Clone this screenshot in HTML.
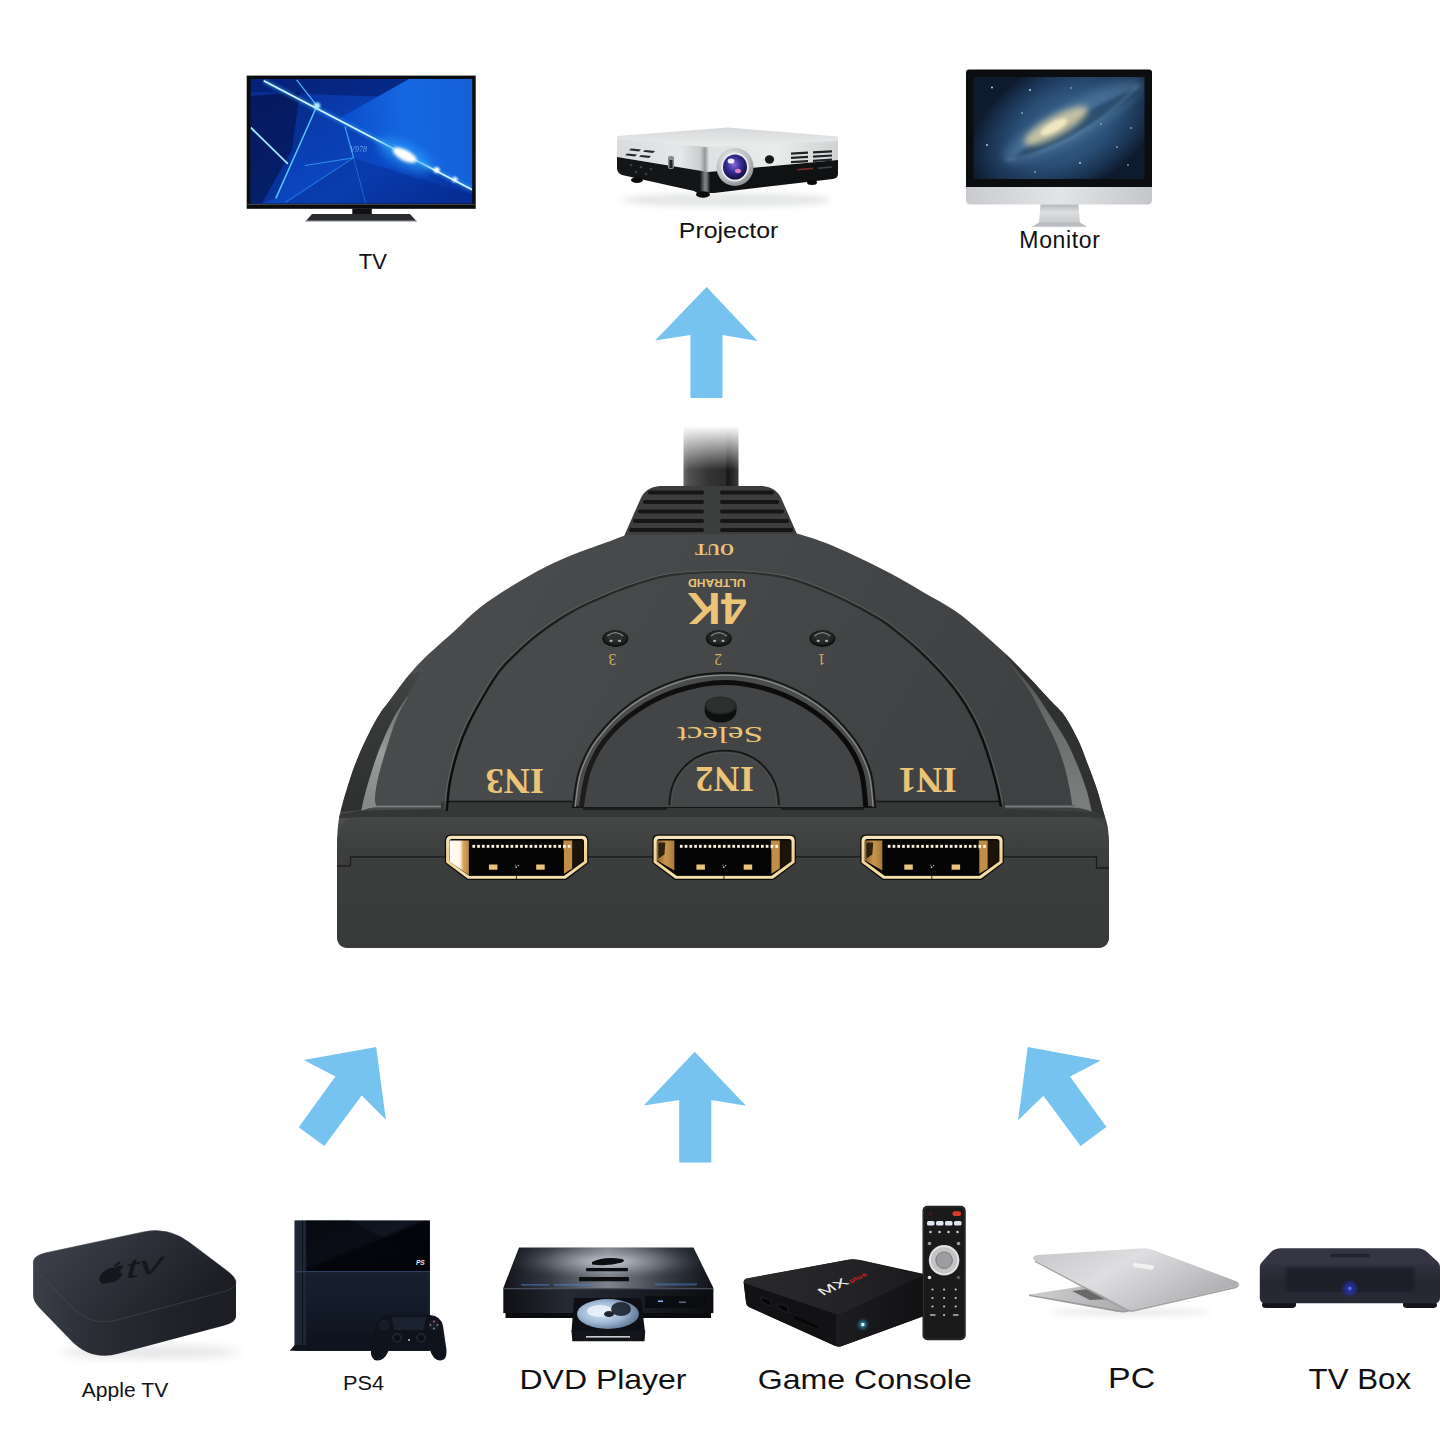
<!DOCTYPE html>
<html>
<head>
<meta charset="utf-8">
<title>HDMI Switch</title>
<style>
html,body{margin:0;padding:0;background:#fff;}
body{width:1445px;height:1445px;overflow:hidden;font-family:"Liberation Sans",sans-serif;}
svg{display:block;position:absolute;left:0;top:0;}
text{font-family:"Liberation Sans",sans-serif;}
.lbl{fill:#111;}
.gold{fill:#ecc477;}
.serif{font-family:"Liberation Serif",serif;}
</style>
</head>
<body>
<svg width="1445" height="1445" viewBox="0 0 1445 1445">
<defs>
<linearGradient id="cableH" x1="0" x2="1" y1="0" y2="0">
<stop offset="0" stop-color="#6a6a6a"/><stop offset="0.1" stop-color="#505050"/><stop offset="0.45" stop-color="#343434"/><stop offset="0.78" stop-color="#2a2a2a"/><stop offset="0.85" stop-color="#1e1e1e"/><stop offset="1" stop-color="#3c3c3c"/>
</linearGradient>
<linearGradient id="cableFade" x1="0" x2="0" y1="0" y2="1">
<stop offset="0" stop-color="#fff" stop-opacity="1"/><stop offset="0.12" stop-color="#fff" stop-opacity="1"/><stop offset="1" stop-color="#fff" stop-opacity="0"/>
</linearGradient>
<linearGradient id="topG" x1="0" x2="1" y1="0" y2="0.3">
<stop offset="0" stop-color="#4b4d4e"/><stop offset="0.5" stop-color="#454748"/><stop offset="1" stop-color="#3e4042"/>
</linearGradient>
<linearGradient id="frontG" x1="0" x2="0" y1="0" y2="1">
<stop offset="0" stop-color="#444746"/><stop offset="0.3" stop-color="#3b3e3d"/><stop offset="1" stop-color="#373a39"/>
</linearGradient>
<linearGradient id="goldG" x1="0" x2="0" y1="0" y2="1">
<stop offset="0" stop-color="#f7e6bb"/><stop offset="0.5" stop-color="#efd090"/><stop offset="1" stop-color="#f5e0ad"/>
</linearGradient>
<linearGradient id="wallW" x1="0" x2="1" y1="0" y2="0">
<stop offset="0" stop-color="#ffffff"/><stop offset="0.55" stop-color="#fff4e0"/><stop offset="0.7" stop-color="#d9a860"/><stop offset="1" stop-color="#b88442"/>
</linearGradient>
<linearGradient id="wallG" x1="0" x2="1" y1="0" y2="0">
<stop offset="0" stop-color="#8a6230"/><stop offset="0.5" stop-color="#c9964e"/><stop offset="1" stop-color="#a87838"/>
</linearGradient>
<clipPath id="bodyClip"><use href="#bodyp"/></clipPath>
<filter id="blur05" x="-20%" y="-20%" width="140%" height="140%"><feGaussianBlur stdDeviation="0.5"/></filter>
<filter id="blur1" x="-20%" y="-20%" width="140%" height="140%"><feGaussianBlur stdDeviation="0.8"/></filter>
<filter id="blur2" x="-50%" y="-50%" width="200%" height="200%"><feGaussianBlur stdDeviation="1.6"/></filter>
<filter id="blur3" x="-50%" y="-50%" width="200%" height="200%"><feGaussianBlur stdDeviation="3"/></filter>
<filter id="blur4" x="-50%" y="-50%" width="200%" height="200%"><feGaussianBlur stdDeviation="5"/></filter>
<linearGradient id="tvBg" x1="0" x2="1" y1="0" y2="1">
<stop offset="0" stop-color="#072a8c"/><stop offset="0.4" stop-color="#0a3fb4"/><stop offset="0.65" stop-color="#0b49c6"/><stop offset="1" stop-color="#062c92"/>
</linearGradient>
<clipPath id="tvClip"><rect x="250.7" y="79" width="221.5" height="124.6"/></clipPath>
<linearGradient id="pjTop" x1="0" x2="0" y1="0" y2="1"><stop offset="0" stop-color="#d6d8da"/><stop offset="1" stop-color="#eceded"/></linearGradient>
<linearGradient id="pjLeftS" x1="0" x2="1" y1="0" y2="0"><stop offset="0" stop-color="#d9dbdc"/><stop offset="0.7" stop-color="#e6e7e8"/><stop offset="1" stop-color="#c0c2c4"/></linearGradient>
<linearGradient id="pjFrontS" x1="0" x2="1" y1="0" y2="0"><stop offset="0" stop-color="#dfe0e1"/><stop offset="0.5" stop-color="#ebecec"/><stop offset="1" stop-color="#d0d2d3"/></linearGradient>
<linearGradient id="pjCorner" x1="0" x2="1" y1="0" y2="0"><stop offset="0" stop-color="#9a9c9e" stop-opacity="0"/><stop offset="0.5" stop-color="#8e9092" stop-opacity="0.9"/><stop offset="1" stop-color="#e8e8e8" stop-opacity="0"/></linearGradient>
<radialGradient id="lensRing" cx="0.4" cy="0.35" r="0.8"><stop offset="0" stop-color="#f4f4f4"/><stop offset="0.6" stop-color="#b8babd"/><stop offset="1" stop-color="#6e7073"/></radialGradient>
<radialGradient id="lensGlass" cx="0.45" cy="0.4" r="0.7"><stop offset="0" stop-color="#8b6ad8"/><stop offset="0.4" stop-color="#3b2f9a"/><stop offset="0.8" stop-color="#14124a"/><stop offset="1" stop-color="#07071e"/></radialGradient>
<radialGradient id="monBg" gradientUnits="userSpaceOnUse" cx="1066" cy="126" r="105" gradientTransform="translate(1066 126) rotate(-29) scale(1 0.62) translate(-1066 -126)"><stop offset="0" stop-color="#3e6890"/><stop offset="0.5" stop-color="#2b5078"/><stop offset="0.8" stop-color="#1a3352"/><stop offset="1" stop-color="#0e1b2e"/></radialGradient>
<clipPath id="monClip"><rect x="973.5" y="77" width="171" height="102"/></clipPath>
<linearGradient id="monChin" x1="0" x2="1" y1="0" y2="0"><stop offset="0" stop-color="#c9cbce"/><stop offset="0.5" stop-color="#e3e4e6"/><stop offset="1" stop-color="#c4c6c9"/></linearGradient>
<linearGradient id="monNeck" x1="0" x2="0" y1="0" y2="1"><stop offset="0" stop-color="#b4b7ba"/><stop offset="0.4" stop-color="#dcdee0"/><stop offset="1" stop-color="#c8cacc"/></linearGradient>
<linearGradient id="atvTop" x1="0" x2="1" y1="0" y2="0.4"><stop offset="0" stop-color="#40444e"/><stop offset="0.5" stop-color="#2e3139"/><stop offset="1" stop-color="#1c1e24"/></linearGradient>
<linearGradient id="atvSide" gradientUnits="userSpaceOnUse" x1="33" x2="236" y1="0" y2="0"><stop offset="0" stop-color="#2a2d35"/><stop offset="0.3" stop-color="#1e2027"/><stop offset="0.45" stop-color="#2b2e36"/><stop offset="1" stop-color="#14151a"/></linearGradient>
<linearGradient id="ps4Gloss" x1="0" x2="1" y1="0" y2="1"><stop offset="0" stop-color="#0a0d15"/><stop offset="0.45" stop-color="#111622"/><stop offset="0.5" stop-color="#04050a"/><stop offset="1" stop-color="#020308"/></linearGradient>
<linearGradient id="ps4Matte" x1="0" x2="0" y1="0" y2="1"><stop offset="0" stop-color="#18202f"/><stop offset="0.5" stop-color="#131a27"/><stop offset="1" stop-color="#0d121c"/></linearGradient>
<linearGradient id="dvdTop" x1="0" x2="1" y1="0" y2="0"><stop offset="0" stop-color="#12141a"/><stop offset="0.22" stop-color="#343943"/><stop offset="0.5" stop-color="#7f858e"/><stop offset="0.78" stop-color="#343943"/><stop offset="1" stop-color="#101217"/></linearGradient>
<radialGradient id="dvdSheen" cx="0.5" cy="0.35" r="0.5"><stop offset="0" stop-color="#d4d7dc" stop-opacity="0.9"/><stop offset="0.6" stop-color="#9a9fa8" stop-opacity="0.3"/><stop offset="1" stop-color="#333" stop-opacity="0"/></radialGradient>
<linearGradient id="dvdFront" x1="0" x2="1" y1="0" y2="0"><stop offset="0" stop-color="#0e1015"/><stop offset="0.3" stop-color="#262a33"/><stop offset="0.6" stop-color="#1c1f27"/><stop offset="1" stop-color="#0c0d11"/></linearGradient>
<radialGradient id="discG" cx="0.4" cy="0.45" r="0.7"><stop offset="0" stop-color="#dbe8f6"/><stop offset="0.5" stop-color="#9fb9d6"/><stop offset="1" stop-color="#4a607e"/></radialGradient>
<linearGradient id="gcTop" x1="0" x2="1" y1="0" y2="0"><stop offset="0" stop-color="#2a2a2c"/><stop offset="0.6" stop-color="#232325"/><stop offset="1" stop-color="#1a1a1c"/></linearGradient>
<linearGradient id="gcFront" x1="0" x2="1" y1="0" y2="0"><stop offset="0" stop-color="#1d1d1f"/><stop offset="1" stop-color="#111113"/></linearGradient>
<linearGradient id="pcLid" x1="0" x2="1" y1="0" y2="0.5"><stop offset="0" stop-color="#c6c6c8"/><stop offset="0.45" stop-color="#dedee0"/><stop offset="0.8" stop-color="#c2c2c4"/><stop offset="1" stop-color="#b0b0b2"/></linearGradient>
<linearGradient id="pcBase" x1="0" x2="1" y1="0" y2="0"><stop offset="0" stop-color="#cfcfd1"/><stop offset="1" stop-color="#a8a8aa"/></linearGradient>
<linearGradient id="tbFront" x1="0" x2="0" y1="0" y2="1"><stop offset="0" stop-color="#30303e"/><stop offset="0.5" stop-color="#262632"/><stop offset="1" stop-color="#2a2a37"/></linearGradient>
<linearGradient id="tvWedge" gradientUnits="userSpaceOnUse" x1="340" y1="118" x2="472" y2="110"><stop offset="0" stop-color="#0b4cc9"/><stop offset="0.5" stop-color="#1668e2"/><stop offset="1" stop-color="#1560d8"/></linearGradient>
<linearGradient id="lipShadow" gradientUnits="userSpaceOnUse" x1="580" y1="760" x2="870" y2="700"><stop offset="0" stop-color="#1c1d1c"/><stop offset="0.25" stop-color="#0e0f0e"/><stop offset="1" stop-color="#0a0b0a"/></linearGradient>
<linearGradient id="slv" gradientUnits="userSpaceOnUse" x1="0" y1="698" x2="0" y2="808"><stop offset="0" stop-color="#6a6c6c"/><stop offset="0.5" stop-color="#9a9c9c"/><stop offset="1" stop-color="#858787"/></linearGradient>
<linearGradient id="rlv" gradientUnits="userSpaceOnUse" x1="0" y1="661" x2="0" y2="808"><stop offset="0" stop-color="#4e5050"/><stop offset="0.4" stop-color="#6a6c6c"/><stop offset="1" stop-color="#7c7e7e"/></linearGradient>
<linearGradient id="lband" gradientUnits="userSpaceOnUse" x1="0" y1="675" x2="0" y2="812"><stop offset="0" stop-color="#424445"/><stop offset="0.3" stop-color="#383a3a"/><stop offset="1" stop-color="#2e3030"/></linearGradient>
<linearGradient id="arcFade" gradientUnits="userSpaceOnUse" x1="0" y1="570" x2="0" y2="810"><stop offset="0" stop-color="#2e3030"/><stop offset="0.25" stop-color="#1c1d1d"/><stop offset="0.6" stop-color="#0e0f0f"/><stop offset="1" stop-color="#0a0b0b"/></linearGradient>
<!--DEFS-->
</defs>
<rect width="1445" height="1445" fill="#ffffff"/>

<!-- ARROWS -->
<g fill="#76c3ef">
<polygon points="706.6,286.9 757.6,340.9 722.5,335 722.5,398 690.4,398 690.4,335 655.1,340.6"/>
<polygon points="694.7,1051.8 746,1105.8 711.3,1100 711.3,1162.6 679.2,1162.6 679.2,1100 643.8,1105.5"/>
<polygon points="376.2,1047 385.9,1119.7 361.7,1095.4 324.3,1146 298.7,1127.3 335.4,1076.5 303.8,1060.1"/>
<polygon points="1027.8,1047 1100.7,1060.4 1070,1076.5 1106.4,1126.9 1080.6,1146 1043.4,1095.8 1018.1,1120.3"/>
</g>

<!-- SWITCH -->
<g id="switch">
<!-- cable -->
<rect x="683.5" y="424" width="55" height="64" fill="url(#cableH)"/>
<rect x="726" y="424" width="3" height="64" fill="#111" opacity="0.55"/>
<rect x="680" y="420" width="62" height="50" fill="url(#cableFade)"/>
<!-- strain relief -->
<path d="M623,540 L625,534 L640,500 Q645,487 660,486 L762,486 Q777,487 782,500 L797,534 L799,540 Z" fill="#3c3e3e"/>
<g stroke="#151615" stroke-width="4.2" stroke-linecap="round">
<line x1="650" y1="492.5" x2="702" y2="492.5"/><line x1="722" y1="492.5" x2="772" y2="492.5"/>
<line x1="645" y1="502" x2="702" y2="502"/><line x1="722" y1="502" x2="777" y2="502"/>
<line x1="640" y1="511.5" x2="702" y2="511.5"/><line x1="722" y1="511.5" x2="782" y2="511.5"/>
<line x1="635" y1="521" x2="702" y2="521"/><line x1="722" y1="521" x2="787" y2="521"/>
<line x1="631" y1="530" x2="702" y2="530"/><line x1="722" y1="530" x2="791" y2="530"/>
</g>
<!-- body silhouette -->
<path id="bodyp" d="M337.0,842.0 C337.2,839.3 337.4,831.3 338.0,826.0 C338.6,820.7 339.4,816.0 340.8,810.0 C342.2,804.0 344.2,797.2 346.6,789.7 C349.0,782.2 351.7,773.1 354.9,764.8 C358.1,756.5 361.7,748.1 365.7,739.8 C369.7,731.5 374.9,721.5 379.0,714.9 C383.1,708.3 385.0,706.7 390.0,700.0 C395.0,693.3 402.5,682.5 409.1,674.7 C415.7,666.9 422.2,660.4 429.8,653.1 C437.4,645.8 446.4,638.3 454.8,630.7 C463.2,623.1 470.3,615.1 480.0,607.5 C489.7,599.9 502.1,592.1 513.2,585.3 C524.3,578.5 535.3,572.0 546.4,566.5 C557.5,561.0 568.6,556.5 579.7,552.1 C590.8,547.7 605.2,542.8 612.9,539.9 C620.6,537.0 623.8,535.8 626.0,535.0 L797.8,533.8 C802.0,535.2 813.4,538.3 823.2,542.1 C833.0,545.9 845.3,551.3 856.4,556.5 C867.5,561.7 878.6,567.2 889.7,573.1 C900.8,579.0 912.0,585.7 922.9,592.0 C933.8,598.3 945.4,604.2 954.9,610.7 C964.4,617.2 971.5,623.6 979.8,630.7 C988.1,637.8 996.5,645.2 1004.8,653.1 C1013.1,661.0 1022.2,670.2 1029.7,678.0 C1037.2,685.8 1044.3,693.9 1050.0,700.0 C1055.7,706.1 1059.3,708.3 1064.0,714.9 C1068.7,721.5 1074.1,731.5 1078.1,739.8 C1082.1,748.1 1084.8,756.5 1088.0,764.8 C1091.2,773.1 1094.7,782.2 1097.2,789.7 C1099.7,797.2 1101.3,804.0 1103.0,810.0 C1104.7,816.0 1106.5,820.7 1107.5,826.0 C1108.5,831.3 1108.8,839.3 1109.0,842.0 L1109,936 Q1109,948 1097,948 L349,948 Q337,948 337,936 Z" fill="url(#topG)"/>
</g>

<g id="switchtop" clip-path="url(#bodyClip)">
<!-- outer bevel band -->
<path d="M340.8,812.0 C341.8,808.3 344.2,797.6 346.6,789.7 C349.0,781.8 351.7,773.1 354.9,764.8 C358.1,756.5 361.7,748.1 365.7,739.8 C369.7,731.5 374.9,721.5 379.0,714.9 C383.1,708.3 385.0,706.7 390.0,700.0 C395.0,693.3 405.9,678.9 409.1,674.7 L420.0,672.0 C419.2,673.7 417.3,677.8 415.0,682.0 C412.7,686.2 410.0,691.3 406.4,697.5 C402.8,703.7 397.5,710.6 393.1,719.0 C388.7,727.4 383.7,738.4 379.8,748.1 C375.9,757.8 372.5,768.9 369.9,777.2 C367.3,785.5 365.4,792.5 364.0,798.0 C362.6,803.5 362.0,808.0 361.6,810.0 Z" fill="url(#lband)"/>
<path d="M361.6,810.0 C362.0,808.0 362.6,803.5 364.0,798.0 C365.4,792.5 367.3,785.5 369.9,777.2 C372.5,768.9 375.9,757.8 379.8,748.1 C383.7,738.4 388.7,727.4 393.1,719.0 C397.5,710.6 404.2,701.1 406.4,697.5 L408.0,696.6 C406.1,700.3 400.0,710.4 396.4,719.0 C392.8,727.6 389.5,738.4 386.5,748.1 C383.5,757.8 380.1,768.9 378.2,777.2 C376.3,785.5 375.2,793.1 374.9,798.0 C374.6,802.9 376.2,804.9 376.5,806.3 Z" fill="url(#slv)"/>
<path d="M361.6,810 Q368,806.5 376.5,806.5 L441,806.5" fill="none" stroke="#8c8e8e" stroke-width="1.6" opacity="0.9"/>
<path d="M1004.8,653.1 C1008.9,657.2 1022.2,670.2 1029.7,678.0 C1037.2,685.8 1044.3,693.9 1050.0,700.0 C1055.7,706.1 1059.3,708.3 1064.0,714.9 C1068.7,721.5 1074.1,731.5 1078.1,739.8 C1082.1,748.1 1084.8,756.5 1088.0,764.8 C1091.2,773.1 1094.7,782.2 1097.2,789.7 C1099.7,797.2 1101.7,805.3 1103.0,810.0 C1104.3,814.7 1104.7,816.7 1105.0,818.0 L1091.4,810.0 C1090.6,806.6 1088.8,797.2 1086.4,789.7 C1084.0,782.2 1080.7,773.1 1077.2,764.8 C1073.7,756.5 1070.2,748.1 1065.6,739.8 C1061.0,731.5 1055.2,723.2 1049.8,714.9 C1044.4,706.6 1040.3,699.8 1033.0,690.0 C1025.7,680.2 1010.5,661.7 1006.0,656.0 Z" fill="#303232"/>
<path d="M1008.2,661.5 C1011.7,666.2 1023.3,681.1 1029.0,690.0 C1034.7,698.9 1038.1,706.6 1042.4,714.9 C1046.7,723.2 1051.2,731.5 1054.8,739.8 C1058.4,748.1 1061.5,756.5 1064.0,764.8 C1066.5,773.1 1068.4,783.0 1069.8,789.7 C1071.2,796.4 1071.9,802.5 1072.3,805.0 L1091.4,810.0 C1090.6,806.6 1088.8,797.2 1086.4,789.7 C1084.0,782.2 1080.7,773.1 1077.2,764.8 C1073.7,756.5 1070.2,748.1 1065.6,739.8 C1061.0,731.5 1055.2,723.2 1049.8,714.9 C1044.4,706.6 1039.9,698.9 1033.0,690.0 C1026.1,681.1 1012.3,666.2 1008.2,661.5 Z" fill="url(#rlv)"/>
<path d="M1005,806.5 L1072,806.5 Q1084,807 1091.4,810.5" fill="none" stroke="#7e8080" stroke-width="1.8" opacity="0.9"/>
<!-- step band between top panels and front face -->
<path d="M441,801.5 L1005,801.5 L1005,818 L441,818 Z" fill="#363838"/>
<path d="M340,814 L361.6,810.5 L441,809 L441,818 L338,818 Z" fill="#353737"/>
<path d="M1005,809 L1093,812 L1104,818 L1005,818 Z" fill="#353737"/>
<path d="M447,801.5 L572,801.5 M876,801.5 L1001,801.5 M670,801.5 L779,801.5" stroke="#151616" stroke-width="1.6" fill="none"/>
<path d="M583,809 L667,809 M781,809 L864,809" stroke="#151616" stroke-width="1.4" fill="none"/>
<!-- outer thin arc -->
<path d="M446.7,811.0 C447.2,806.3 448.0,792.5 449.8,782.7 C451.6,772.9 454.4,761.9 457.4,752.3 C460.4,742.7 463.7,734.2 468.0,725.0 C472.3,715.8 477.7,706.1 483.0,697.0 C488.3,687.9 494.4,677.9 500.0,670.6 C505.6,663.3 511.1,658.5 516.6,653.1 C522.1,647.7 527.7,642.8 533.2,638.2 C538.7,633.6 544.3,629.6 549.8,625.7 C555.3,621.8 560.8,618.2 566.4,614.9 C572.0,611.6 577.5,608.6 583.1,605.8 C588.7,603.0 594.1,600.8 599.7,598.3 C605.4,595.8 611.1,593.3 617.0,591.0 C622.9,588.7 627.8,586.8 634.9,584.5 C642.0,582.2 651.5,578.9 659.8,577.0 C668.1,575.1 674.4,574.1 684.8,573.2 C695.2,572.3 709.5,571.5 722.0,571.5 C734.5,571.5 747.8,572.1 760.0,573.5 C772.2,574.9 782.0,575.9 795.3,580.0 C808.6,584.1 825.9,591.4 840.0,598.0 C854.1,604.6 870.1,613.4 880.0,619.4 C889.9,625.4 892.9,628.7 899.4,633.9 C905.9,639.1 912.3,644.4 918.8,650.4 C925.2,656.4 931.6,662.7 938.1,669.8 C944.6,676.9 951.9,685.2 957.5,693.0 C963.1,700.8 967.8,708.5 972.0,716.3 C976.2,724.1 979.5,731.9 982.7,740.0 C985.9,748.1 988.6,757.2 991.0,765.0 C993.4,772.8 995.4,780.1 997.0,787.0 C998.6,793.9 1000.2,803.2 1000.8,806.5" fill="none" stroke="url(#arcFade)" stroke-width="2.4"/>
<path d="M444.7,810.0 C445.2,805.3 446.0,791.5 447.8,781.7 C449.6,771.9 452.4,760.9 455.4,751.3 C458.4,741.7 461.7,733.2 466.0,724.0 C470.3,714.8 475.7,705.1 481.0,696.0 C486.3,686.9 492.4,676.9 498.0,669.6 C503.6,662.3 509.1,657.5 514.6,652.1 C520.1,646.7 525.7,641.8 531.2,637.2 C536.7,632.6 542.3,628.6 547.8,624.7 C553.3,620.8 558.8,617.2 564.4,613.9 C570.0,610.6 575.5,607.6 581.1,604.8 C586.7,602.0 592.1,599.8 597.7,597.3 C603.4,594.8 609.1,592.3 615.0,590.0 C620.9,587.7 625.8,585.8 632.9,583.5 C640.0,581.2 649.5,577.9 657.8,576.0 C666.1,574.1 671.8,573.1 682.8,572.2 C693.8,571.3 710.8,570.5 724.0,570.5 C737.2,570.5 749.8,571.1 762.0,572.5 C774.2,573.9 784.0,574.9 797.3,579.0 C810.6,583.1 827.9,590.4 842.0,597.0 C856.1,603.6 872.1,612.4 882.0,618.4 C891.9,624.4 894.9,627.7 901.4,632.9 C907.9,638.1 914.3,643.4 920.8,649.4 C927.2,655.4 933.6,661.7 940.1,668.8 C946.6,675.9 953.9,684.2 959.5,692.0 C965.1,699.8 969.8,707.5 974.0,715.3 C978.2,723.1 981.5,730.9 984.7,739.0 C987.9,747.1 990.6,756.2 993.0,764.0 C995.4,771.8 997.4,779.1 999.0,786.0 C1000.6,792.9 1002.2,802.2 1002.8,805.5" fill="none" stroke="#7a7c7c" stroke-width="1" opacity="0.5"/>
<!-- raised lip -->
<path d="M572.9,807.0 C573.9,801.1 575.1,783.2 578.8,771.8 C582.5,760.4 586.7,750.2 595.3,738.8 C603.9,727.4 616.9,713.3 630.6,703.5 C644.3,693.7 661.9,685.1 677.6,680.0 C693.3,674.9 709.0,673.0 724.7,673.0 C740.4,673.0 756.1,674.9 771.8,680.0 C787.5,685.1 805.1,693.7 818.8,703.5 C832.5,713.3 845.5,727.4 854.1,738.8 C862.7,750.2 867.1,760.4 870.6,771.8 C874.1,783.2 874.5,801.1 875.3,807.0 Z" fill="#4a4c4c" stroke="#151616" stroke-width="1.8"/>
<path d="M575.1,807.0 C576.1,801.2 577.2,783.5 580.9,772.3 C584.6,761.1 588.7,751.0 597.2,739.8 C605.8,728.6 618.6,714.8 632.1,705.1 C645.6,695.5 662.9,687.1 678.4,682.1 C693.8,677.1 709.3,675.2 724.7,675.2 C740.1,675.2 755.6,677.1 771.0,682.1 C786.5,687.1 803.8,695.5 817.3,705.1 C830.8,714.8 843.6,728.6 852.2,739.8 C860.7,751.0 865.0,761.1 868.5,772.3 C872.0,783.5 872.3,801.2 873.1,807.0" fill="none" stroke="#a0a2a2" stroke-width="1.2" opacity="0.75"/>
<path d="M583.5,807.0 C584.7,801.1 586.7,782.8 590.6,771.8 C594.5,760.8 599.2,751.0 607.0,741.2 C614.8,731.4 625.8,720.9 637.6,712.9 C649.4,704.9 663.1,697.7 677.6,693.0 C692.1,688.3 709.0,684.7 724.7,684.7 C740.4,684.7 757.3,688.3 771.8,693.0 C786.3,697.7 800.0,704.9 811.8,712.9 C823.6,720.9 834.6,731.4 842.4,741.2 C850.2,751.0 855.3,760.8 858.8,771.8 C862.3,782.8 862.7,801.1 863.5,807.0 Z" fill="#424445"/>
<path d="M581.2,807.0 C582.4,801.0 584.4,782.4 588.4,771.2 C592.3,760.1 597.0,750.1 605.0,740.1 C612.9,730.1 624.1,719.4 636.0,711.2 C648.0,703.0 661.9,695.7 676.7,690.9 C691.5,686.1 708.7,682.4 724.7,682.4 C740.7,682.4 757.9,686.1 772.7,690.9 C787.5,695.7 801.4,703.0 813.4,711.2 C825.3,719.4 836.5,730.1 844.4,740.1 C852.4,750.1 857.5,760.1 861.0,771.2 C864.6,782.4 865.0,801.0 865.8,807.0" fill="none" stroke="url(#lipShadow)" stroke-width="5" stroke-linecap="butt"/>
<!-- IN2 small arc -->
<path d="M669.4,805 C669.6,773 693,750.6 724.7,750.6 C756,750.6 778.6,773 778.8,805" fill="#444647" stroke="#151616" stroke-width="1.8"/>
<path d="M671.6,805 C671.8,775 694,752.8 724.7,752.8 C755,752.8 776.4,775 776.6,805" fill="none" stroke="#565857" stroke-width="0.9" opacity="0.7"/>
<!-- select button -->
<path d="M704.7,706 L704.7,711 A15.9,11.5 0 0 0 736.5,711 L736.5,706 Z" fill="#0e0f0f"/>
<ellipse cx="720.6" cy="705.5" rx="15.9" ry="9" fill="#262727"/>
<ellipse cx="720.6" cy="705" rx="14" ry="7.5" fill="#2e2f2f"/>
<!-- LEDs -->
<g id="led" transform="translate(615.3,637.6)"><ellipse cx="0" cy="1" rx="13" ry="8.4" fill="#101111"/><ellipse cx="0" cy="0" rx="11.5" ry="7.2" fill="#222323"/><ellipse cx="0" cy="-0.5" rx="8" ry="4.6" fill="#2e2f2f"/><path d="M-8,-1.500 Q0,-8.500 8,-1.500" fill="none" stroke="#8e9090" stroke-width="1.3" opacity="0.9"/><ellipse cx="-4.2" cy="3.300" rx="1.6" ry="1.1" fill="#c8caca" opacity="0.85"/><ellipse cx="4.2" cy="3.300" rx="1.6" ry="1.1" fill="#c8caca" opacity="0.85"/></g>
<use href="#led" x="103.5" y="0"/><use href="#led" x="207.1" y="0"/>
<!-- gold text (rotated 180) -->
<g class="gold" text-anchor="middle">
<text class="serif" font-weight="bold" font-size="16.5" textLength="38.8" lengthAdjust="spacingAndGlyphs" transform="translate(714.5,549.3) rotate(180)" x="0" y="5.5">OUT</text>
<text font-weight="bold" font-size="11.2" textLength="57.5" lengthAdjust="spacingAndGlyphs" transform="translate(716.7,583) rotate(180)" x="0" y="4">ULTRAHD</text>
<text font-weight="bold" font-size="45" textLength="59" lengthAdjust="spacingAndGlyphs" transform="translate(717,609.3) rotate(180)" x="0" y="16.2">4K</text>
<text class="serif" font-size="15.7" fill="#d2ab5a" transform="translate(612.4,659.4) rotate(180)" x="0" y="5.3">3</text>
<text class="serif" font-size="15.7" fill="#d2ab5a" transform="translate(718.1,659.4) rotate(180)" x="0" y="5.3">2</text>
<text class="serif" font-size="15.7" fill="#d2ab5a" transform="translate(821.6,659.4) rotate(180)" x="0" y="5.3">1</text>
<text class="serif" font-size="23.5" textLength="86" lengthAdjust="spacingAndGlyphs" transform="translate(720,735.2) rotate(180)" x="0" y="7.8">Select</text>
<text class="serif" font-weight="bold" font-size="36" textLength="58.5" lengthAdjust="spacingAndGlyphs" transform="translate(514.8,781) rotate(180)" x="0" y="12">IN3</text>
<text class="serif" font-weight="bold" font-size="36" textLength="58.5" lengthAdjust="spacingAndGlyphs" transform="translate(724.7,779.4) rotate(180)" x="0" y="12">IN2</text>
<text class="serif" font-weight="bold" font-size="36" textLength="58.5" lengthAdjust="spacingAndGlyphs" transform="translate(927.4,780) rotate(180)" x="0" y="12">IN1</text>
</g>
</g>
<!-- front face -->
<g id="frontface">
<path d="M337,842 Q338,818 358,817 L1088,817 Q1108,818 1109,842 L1109,936 Q1109,948 1097,948 L349,948 Q337,948 337,936 Z" fill="url(#frontG)"/>
<path d="M339,836 Q341,819.5 358,818.2 L1088,818.2 Q1105,819.5 1107,836" fill="none" stroke="#454746" stroke-width="1.6" opacity="0.8"/>
<path d="M350.5,866 L350.5,857 L1096.5,857 L1096.5,868 L1109,868" fill="none" stroke="#1b1c1b" stroke-width="1.3"/>
<path d="M351.5,858.3 L1095.5,858.3" fill="none" stroke="#454746" stroke-width="1" opacity="0.7"/>
<path d="M337,866 L350.5,866" fill="none" stroke="#1b1c1b" stroke-width="1.3"/>
</g>
<g id="ports">
<g transform="translate(444.9,834.5)">
<path d="M6,0 L137.5,0 Q143.5,0 143.5,6 L143.5,28.5 L121.0,45.5 L22.5,45.5 L0,28.5 L0,6 Q0,0 6,0 Z" fill="#0c0c0c"/>
<path d="M6.5,1.2 L137.0,1.2 Q142.3,1.2 142.3,6.5 L142.3,28 L120.5,44.3 L23,44.3 L1.2,28 L1.2,6.5 Q1.2,1.2 6.5,1.2 Z" fill="url(#goldG)"/>
<path d="M7,4.4 L136.5,4.4 Q139.1,4.4 139.1,7 L139.1,26.8 L119.3,41.3 L24.2,41.3 L4.4,26.8 L4.4,7 Q4.4,4.4 7,4.4 Z" fill="#070707"/>
<path d="M4.6,6 L24,6 L24,40.5 L4.6,27 Z" fill="url(#wallW)"/>
<path d="M118.5,6 L127.5,6 L127.5,34 L118.5,39.5 Z" fill="#c28d48"/>
<path d="M127.5,6 L138.5,6 L138.5,27 L127.5,34 Z" fill="#1c140a"/>
<rect x="24.5" y="15" width="94.5" height="26" fill="#050505"/>
<rect x="27.50" y="10.4" width="2.7" height="2.9" fill="#fff6df"/><rect x="32.27" y="10.4" width="2.7" height="2.9" fill="#fff6df"/><rect x="37.04" y="10.4" width="2.7" height="2.9" fill="#fff6df"/><rect x="41.81" y="10.4" width="2.7" height="2.9" fill="#fff6df"/><rect x="46.58" y="10.4" width="2.7" height="2.9" fill="#fff6df"/><rect x="51.35" y="10.4" width="2.7" height="2.9" fill="#fff6df"/><rect x="56.12" y="10.4" width="2.7" height="2.9" fill="#fff6df"/><rect x="60.89" y="10.4" width="2.7" height="2.9" fill="#fff6df"/><rect x="65.66" y="10.4" width="2.7" height="2.9" fill="#fff6df"/><rect x="70.43" y="10.4" width="2.7" height="2.9" fill="#fff6df"/><rect x="75.20" y="10.4" width="2.7" height="2.9" fill="#fff6df"/><rect x="79.97" y="10.4" width="2.7" height="2.9" fill="#fff6df"/><rect x="84.74" y="10.4" width="2.7" height="2.9" fill="#fff6df"/><rect x="89.51" y="10.4" width="2.7" height="2.9" fill="#fff6df"/><rect x="94.28" y="10.4" width="2.7" height="2.9" fill="#fff6df"/><rect x="99.05" y="10.4" width="2.7" height="2.9" fill="#fff6df"/><rect x="103.82" y="10.4" width="2.7" height="2.9" fill="#fff6df"/><rect x="108.59" y="10.4" width="2.7" height="2.9" fill="#fff6df"/><rect x="113.36" y="10.4" width="2.7" height="2.9" fill="#fff6df"/><rect x="118.13" y="10.4" width="2.7" height="2.9" fill="#fff6df"/><rect x="122.90" y="10.4" width="2.7" height="2.9" fill="#fff6df"/>
<rect x="44" y="30" width="8.5" height="5.2" fill="#ecc47c"/>
<rect x="91.3" y="30" width="8.5" height="5.2" fill="#ecc47c"/>
<circle cx="71.3" cy="32.6" r="0.9" fill="#d8d0c0"/><circle cx="73.3" cy="31" r="0.7" fill="#bbb"/><circle cx="70.5" cy="30.5" r="0.6" fill="#aaa"/>
<rect x="71" y="41.0" width="1" height="3.4" fill="#3a2a10"/>
</g>
<g transform="translate(652.4,834.5)">
<path d="M6,0 L137.5,0 Q143.5,0 143.5,6 L143.5,28.5 L121.0,45.5 L22.5,45.5 L0,28.5 L0,6 Q0,0 6,0 Z" fill="#0c0c0c"/>
<path d="M6.5,1.2 L137.0,1.2 Q142.3,1.2 142.3,6.5 L142.3,28 L120.5,44.3 L23,44.3 L1.2,28 L1.2,6.5 Q1.2,1.2 6.5,1.2 Z" fill="url(#goldG)"/>
<path d="M7,4.4 L136.5,4.4 Q139.1,4.4 139.1,7 L139.1,26.8 L119.3,41.3 L24.2,41.3 L4.4,26.8 L4.4,7 Q4.4,4.4 7,4.4 Z" fill="#070707"/>
<path d="M4.6,6 L22,6 L22,36 L4.6,26 Z" fill="url(#wallG)"/>
<path d="M6,8 L13,8 L12,20 L6,24 Z" fill="#1a1208" opacity="0.85"/>
<path d="M118.5,6 L127.5,6 L127.5,34 L118.5,39.5 Z" fill="#c28d48"/>
<path d="M127.5,6 L138.5,6 L138.5,27 L127.5,34 Z" fill="#1c140a"/>
<rect x="24.5" y="15" width="94.5" height="26" fill="#050505"/>
<rect x="27.50" y="10.4" width="2.7" height="2.9" fill="#fff6df"/><rect x="32.27" y="10.4" width="2.7" height="2.9" fill="#fff6df"/><rect x="37.04" y="10.4" width="2.7" height="2.9" fill="#fff6df"/><rect x="41.81" y="10.4" width="2.7" height="2.9" fill="#fff6df"/><rect x="46.58" y="10.4" width="2.7" height="2.9" fill="#fff6df"/><rect x="51.35" y="10.4" width="2.7" height="2.9" fill="#fff6df"/><rect x="56.12" y="10.4" width="2.7" height="2.9" fill="#fff6df"/><rect x="60.89" y="10.4" width="2.7" height="2.9" fill="#fff6df"/><rect x="65.66" y="10.4" width="2.7" height="2.9" fill="#fff6df"/><rect x="70.43" y="10.4" width="2.7" height="2.9" fill="#fff6df"/><rect x="75.20" y="10.4" width="2.7" height="2.9" fill="#fff6df"/><rect x="79.97" y="10.4" width="2.7" height="2.9" fill="#fff6df"/><rect x="84.74" y="10.4" width="2.7" height="2.9" fill="#fff6df"/><rect x="89.51" y="10.4" width="2.7" height="2.9" fill="#fff6df"/><rect x="94.28" y="10.4" width="2.7" height="2.9" fill="#fff6df"/><rect x="99.05" y="10.4" width="2.7" height="2.9" fill="#fff6df"/><rect x="103.82" y="10.4" width="2.7" height="2.9" fill="#fff6df"/><rect x="108.59" y="10.4" width="2.7" height="2.9" fill="#fff6df"/><rect x="113.36" y="10.4" width="2.7" height="2.9" fill="#fff6df"/><rect x="118.13" y="10.4" width="2.7" height="2.9" fill="#fff6df"/><rect x="122.90" y="10.4" width="2.7" height="2.9" fill="#fff6df"/>
<rect x="44" y="30" width="8.5" height="5.2" fill="#ecc47c"/>
<rect x="91.3" y="30" width="8.5" height="5.2" fill="#ecc47c"/>
<circle cx="71.3" cy="32.6" r="0.9" fill="#d8d0c0"/><circle cx="73.3" cy="31" r="0.7" fill="#bbb"/><circle cx="70.5" cy="30.5" r="0.6" fill="#aaa"/>
<rect x="71" y="41.0" width="1" height="3.4" fill="#3a2a10"/>
</g>
<g transform="translate(860.3,834.5)">
<path d="M6,0 L137.5,0 Q143.5,0 143.5,6 L143.5,28.5 L121.0,45.5 L22.5,45.5 L0,28.5 L0,6 Q0,0 6,0 Z" fill="#0c0c0c"/>
<path d="M6.5,1.2 L137.0,1.2 Q142.3,1.2 142.3,6.5 L142.3,28 L120.5,44.3 L23,44.3 L1.2,28 L1.2,6.5 Q1.2,1.2 6.5,1.2 Z" fill="url(#goldG)"/>
<path d="M7,4.4 L136.5,4.4 Q139.1,4.4 139.1,7 L139.1,26.8 L119.3,41.3 L24.2,41.3 L4.4,26.8 L4.4,7 Q4.4,4.4 7,4.4 Z" fill="#070707"/>
<path d="M4.6,6 L22,6 L22,36 L4.6,26 Z" fill="url(#wallG)"/>
<path d="M6,8 L13,8 L12,20 L6,24 Z" fill="#1a1208" opacity="0.85"/>
<path d="M118.5,6 L127.5,6 L127.5,34 L118.5,39.5 Z" fill="#c28d48"/>
<path d="M127.5,6 L138.5,6 L138.5,27 L127.5,34 Z" fill="#1c140a"/>
<rect x="24.5" y="15" width="94.5" height="26" fill="#050505"/>
<rect x="27.50" y="10.4" width="2.7" height="2.9" fill="#fff6df"/><rect x="32.27" y="10.4" width="2.7" height="2.9" fill="#fff6df"/><rect x="37.04" y="10.4" width="2.7" height="2.9" fill="#fff6df"/><rect x="41.81" y="10.4" width="2.7" height="2.9" fill="#fff6df"/><rect x="46.58" y="10.4" width="2.7" height="2.9" fill="#fff6df"/><rect x="51.35" y="10.4" width="2.7" height="2.9" fill="#fff6df"/><rect x="56.12" y="10.4" width="2.7" height="2.9" fill="#fff6df"/><rect x="60.89" y="10.4" width="2.7" height="2.9" fill="#fff6df"/><rect x="65.66" y="10.4" width="2.7" height="2.9" fill="#fff6df"/><rect x="70.43" y="10.4" width="2.7" height="2.9" fill="#fff6df"/><rect x="75.20" y="10.4" width="2.7" height="2.9" fill="#fff6df"/><rect x="79.97" y="10.4" width="2.7" height="2.9" fill="#fff6df"/><rect x="84.74" y="10.4" width="2.7" height="2.9" fill="#fff6df"/><rect x="89.51" y="10.4" width="2.7" height="2.9" fill="#fff6df"/><rect x="94.28" y="10.4" width="2.7" height="2.9" fill="#fff6df"/><rect x="99.05" y="10.4" width="2.7" height="2.9" fill="#fff6df"/><rect x="103.82" y="10.4" width="2.7" height="2.9" fill="#fff6df"/><rect x="108.59" y="10.4" width="2.7" height="2.9" fill="#fff6df"/><rect x="113.36" y="10.4" width="2.7" height="2.9" fill="#fff6df"/><rect x="118.13" y="10.4" width="2.7" height="2.9" fill="#fff6df"/><rect x="122.90" y="10.4" width="2.7" height="2.9" fill="#fff6df"/>
<rect x="44" y="30" width="8.5" height="5.2" fill="#ecc47c"/>
<rect x="91.3" y="30" width="8.5" height="5.2" fill="#ecc47c"/>
<circle cx="71.3" cy="32.6" r="0.9" fill="#d8d0c0"/><circle cx="73.3" cy="31" r="0.7" fill="#bbb"/><circle cx="70.5" cy="30.5" r="0.6" fill="#aaa"/>
<rect x="71" y="41.0" width="1" height="3.4" fill="#3a2a10"/>
</g>
</g>


<!-- TV -->
<g id="tv">
<rect x="246.7" y="75.6" width="229" height="133.2" fill="#0b0c0e"/>
<rect x="250.7" y="79" width="221.5" height="124.6" fill="url(#tvBg)"/>
<g clip-path="url(#tvClip)">
<polygon points="250.7,79 472.2,79 472.2,100 250.7,92" fill="#041a66" opacity="0.55"/>
<polygon points="340,118 409,79 472.2,79 472.2,190" fill="url(#tvWedge)"/>
<polygon points="250.7,96 300,92 292,150 262,203.6 250.7,203.6" fill="#04134e" opacity="0.75"/>
<polygon points="300,92 317,106 276,198 262,203.6 292,150" fill="#072a86" opacity="0.6"/>
<polygon points="317,106 345,126 353.6,158 305,165.5" fill="#0a3fae" opacity="0.45"/>
<polygon points="353.6,158 365.8,203.6 286,203.6" fill="#072f94" opacity="0.5"/>
<polygon points="353.6,158 472.2,195 472.2,203.6 365.8,203.6" fill="#062a8c" opacity="0.45"/>
<line x1="263.7" y1="80.8" x2="472.2" y2="189.8" stroke="#39b4ff" stroke-width="4.5" opacity="0.5" filter="url(#blur2)"/>
<line x1="263.7" y1="80.800" x2="472.2" y2="189.8" stroke="#d8f4ff" stroke-width="1.7" filter="url(#blur05)"/>
<line x1="296.600" y1="79.900" x2="317" y2="105.800" stroke="#56c8ff" stroke-width="1.2" opacity="0.9"/>
<line x1="317" y1="105.800" x2="275.800" y2="198.400" stroke="#5ad0ff" stroke-width="1.5" opacity="0.95" filter="url(#blur05)"/>
<line x1="250.700" y1="127.500" x2="287.900" y2="163.800" stroke="#9fe6ff" stroke-width="1.8" filter="url(#blur05)"/>
<line x1="345" y1="126.600" x2="353.600" y2="157.800" stroke="#4bbcff" stroke-width="1.1" opacity="0.9"/>
<line x1="353.600" y1="157.800" x2="305" y2="165.500" stroke="#3aa8f5" stroke-width="1" opacity="0.8"/>
<line x1="353.600" y1="157.800" x2="286" y2="201.900" stroke="#2f9bef" stroke-width="1" opacity="0.7"/>
<line x1="353.600" y1="157.800" x2="365.800" y2="203.600" stroke="#2f9bef" stroke-width="0.9" opacity="0.55"/>
<circle cx="317" cy="105.800" r="3.2" fill="#aef0ff" filter="url(#blur1)"/>
<ellipse cx="404.700" cy="155.200" rx="30" ry="11" fill="#2ea6ff" opacity="0.6" transform="rotate(27.6 404.7 155.2)" filter="url(#blur4)"/>
<ellipse cx="404.700" cy="155.200" rx="13" ry="5.5" fill="#ffffff" transform="rotate(27.6 404.7 155.2)" filter="url(#blur2)"/>
<circle cx="436.700" cy="169.900" r="3" fill="#fff" filter="url(#blur1)"/>
<circle cx="454.900" cy="179.400" r="2.600" fill="#e8fbff" filter="url(#blur1)"/>
<text x="350" y="152" font-size="8" fill="#8fc8ff" opacity="0.7" font-style="italic" class="serif">V978</text>
</g>
<rect x="246.7" y="204" width="229" height="1" fill="#5a5048" opacity="0.8"/>
<rect x="352.3" y="208.5" width="19.5" height="10" fill="#101113"/>
<polygon points="312,214 410,214 417,221.8 305.2,221.8" fill="#2a2c2e"/>
<rect x="305.2" y="220.6" width="111.6" height="1.4" fill="#b8bcc0"/>
</g>

<!-- PROJECTOR -->
<g id="proj">
<ellipse cx="727" cy="200" rx="105" ry="7" fill="#cfd2d4" opacity="0.55" filter="url(#blur3)"/>
<!-- top face -->
<path d="M617,136 L728,127.5 L838,136.5 L838,142 L708,148 L617,140 Z" fill="url(#pjTop)"/>
<!-- left side (silver upper) -->
<path d="M617,139 L708,147 L708,172 L617,157 Z" fill="url(#pjLeftS)"/>
<!-- left side (black lower) -->
<path d="M617,157 L708,172 L708,193 Q700,196 694,191 L622,175 Q617,173 617,168 Z" fill="#141516"/>
<!-- right/front (silver upper) -->
<path d="M708,147 L838,141 L838,160 L708,172 Z" fill="url(#pjFrontS)"/>
<!-- right/front (black lower) -->
<path d="M708,172 L838,160 L838,174 Q838,178 833,179 L714,193 L708,193 Z" fill="#101112"/>
<!-- corner highlight -->
<rect x="700" y="147" width="10" height="46" fill="url(#pjCorner)"/>
<!-- feet -->
<ellipse cx="637" cy="180" rx="6" ry="3" fill="#0a0a0a"/><ellipse cx="703" cy="194.5" rx="7" ry="3.2" fill="#0a0a0a"/><ellipse cx="812" cy="182.5" rx="5" ry="2.5" fill="#0a0a0a"/>
<!-- vents right -->
<g fill="#202224">
<polygon points="791,152.6 808,151.6 808,153.8 791,154.8"/><polygon points="813,151.3 832,150.2 832,152.4 813,153.5"/>
<polygon points="791,156.8 808,155.8 808,158 791,159"/><polygon points="813,155.5 832,154.4 832,156.6 813,157.7"/>
<polygon points="791,161 808,160 808,162.2 791,163.2"/><polygon points="813,159.7 832,158.6 832,160.8 813,161.9"/>
</g>
<!-- vents left -->
<g fill="#26282a">
<polygon points="631,148.5 641,149.6 639,151.4 629,150.3"/><polygon points="645,150 655,151.1 653,152.9 643,151.8"/>
<polygon points="627,153.5 637,154.6 635,156.4 625,155.3"/><polygon points="641,155 651,156.1 649,157.9 639,156.8"/>
</g>
<!-- buttons on black left -->
<g fill="#3c3e40"><circle cx="631" cy="165" r="1.3"/><circle cx="641" cy="167" r="1.3"/><circle cx="651" cy="169" r="1.3"/><circle cx="636" cy="172" r="1.3"/><circle cx="646" cy="174" r="1.3"/></g>
<rect x="668" y="156" width="6" height="13" rx="2" fill="#8a8d90"/><rect x="669.5" y="160" width="3" height="8" fill="#222"/>
<!-- IR sensor -->
<ellipse cx="769.5" cy="159.5" rx="4.6" ry="4.2" fill="#18191a"/>
<!-- lens -->
<ellipse cx="735" cy="167" rx="18.5" ry="19" fill="url(#lensRing)"/>
<ellipse cx="735" cy="167" rx="13.8" ry="14.4" fill="#e9ebee"/>
<ellipse cx="735" cy="167" rx="12" ry="12.6" fill="url(#lensGlass)"/>
<ellipse cx="731" cy="161" rx="3.4" ry="2.6" fill="#fff" opacity="0.9"/>
<ellipse cx="738" cy="171" rx="3" ry="2.2" fill="#ff9ad0" opacity="0.8"/>
<!-- card slots on right black -->
<rect x="797" y="169" width="16" height="1.6" fill="#7a2a2a" transform="rotate(-5 797 169)"/>
<rect x="818" y="167.5" width="14" height="1.6" fill="#444" transform="rotate(-5 818 167.5)"/>
</g>

<!-- MONITOR -->
<g id="mon">
<path d="M969,69.5 L1149,69.5 Q1152,69.5 1152,72.5 L1152,187 L966,187 L966,72.5 Q966,69.5 969,69.5 Z" fill="#0c0d0f"/>
<rect x="973.5" y="77" width="171" height="102" fill="url(#monBg)"/>
<g clip-path="url(#monClip)">
<ellipse cx="1073" cy="121" rx="80" ry="17" fill="#5d88ad" opacity="0.5" transform="rotate(-29 1073 121)" filter="url(#blur4)"/>
<ellipse cx="1078" cy="124" rx="72" ry="7" fill="#1d3a58" opacity="0.6" transform="rotate(-29 1078 124)" filter="url(#blur2)"/>
<ellipse cx="1056" cy="126" rx="36" ry="10" fill="#d9cfa4" opacity="0.85" transform="rotate(-29 1056 126)" filter="url(#blur3)"/>
<ellipse cx="1054" cy="127" rx="15" ry="5" fill="#f6ecc6" opacity="0.9" transform="rotate(-29 1054 127)" filter="url(#blur2)"/>
<path d="M1006,160 Q1075,150 1138,86" fill="none" stroke="#6f95b6" stroke-width="3" opacity="0.35" filter="url(#blur2)"/>
<g fill="#cfe0f0"><circle cx="992" cy="87.500" r="0.900"/><circle cx="1030" cy="90" r="0.900"/><circle cx="1022" cy="113" r="0.800"/><circle cx="987" cy="145" r="0.900"/><circle cx="1080" cy="163" r="0.900"/><circle cx="1117" cy="147" r="0.800"/><circle cx="1131" cy="128" r="0.800"/><circle cx="1035" cy="172" r="0.800"/><circle cx="1101" cy="124" r="0.700"/><circle cx="1128" cy="165" r="0.8"/><circle cx="1071" cy="88" r="0.7"/></g>
</g>
<path d="M966,187 L1152,187 L1152,200 Q1152,204.5 1147,204.5 L971,204.5 Q966,204.5 966,200 Z" fill="url(#monChin)"/>
<path d="M1040.5,204.5 L1078.5,204.5 L1080,223 L1039,223 Z" fill="url(#monNeck)"/>
<path d="M1039,222.5 L1080,222.5 L1087,226.8 L1032,226.8 Z" fill="#b9bcc0"/>
</g>


<!-- APPLE TV -->
<g id="atv">
<ellipse cx="150" cy="1352" rx="90" ry="6" fill="#c8c8cc" opacity="0.5" filter="url(#blur4)"/>
<g><use href="#atvTopP" y="34" fill="url(#atvSide)"/><use href="#atvTopP" y="32" fill="url(#atvSide)"/><use href="#atvTopP" y="30" fill="url(#atvSide)"/><use href="#atvTopP" y="28" fill="url(#atvSide)"/><use href="#atvTopP" y="26" fill="url(#atvSide)"/><use href="#atvTopP" y="24" fill="url(#atvSide)"/><use href="#atvTopP" y="22" fill="url(#atvSide)"/><use href="#atvTopP" y="20" fill="url(#atvSide)"/><use href="#atvTopP" y="18" fill="url(#atvSide)"/><use href="#atvTopP" y="16" fill="url(#atvSide)"/><use href="#atvTopP" y="14" fill="url(#atvSide)"/><use href="#atvTopP" y="12" fill="url(#atvSide)"/><use href="#atvTopP" y="10" fill="url(#atvSide)"/><use href="#atvTopP" y="8" fill="url(#atvSide)"/><use href="#atvTopP" y="6" fill="url(#atvSide)"/><use href="#atvTopP" y="4" fill="url(#atvSide)"/><use href="#atvTopP" y="2" fill="url(#atvSide)"/></g>
<path id="atvTopP" d="M40.2,1274.7 Q23.5,1257.5 47.0,1252.5 L143.1,1231.9 Q168.5,1226.5 189.2,1242.2 L227.4,1271.0 Q246.5,1285.5 223.3,1291.7 L118.1,1319.8 Q91.0,1327.0 71.5,1306.9 Z" fill="url(#atvTop)"/>
<use href="#atvTopP" fill="none" stroke="#50545e" stroke-width="0.8" opacity="0.6"/>
<g fill="#15171c" transform="translate(111,1276)">
<g transform="matrix(0.95,-0.2,-0.22,0.8,0,0)">
<path d="M-9,-8 c3,-3.500 8,-3.500 10.500,-1.500 c3,-2.500 8,-2 10,0.500 c-3.500,2.500 -3.500,7.500 1,10 c-1,4.500 -4.500,8 -8,8 c-2,0 -3.500,-1.200 -5.500,-0.800 c-3,1.300 -7,-0.500 -9.500,-4 c-3,-4 -2.500,-9.500 1.500,-12.200 z"/>
<path d="M0,-11 c0.500,-3 3,-5.500 6.500,-6 c0,3.500 -2.800,6 -6.500,6 z"/>
<text x="15" y="8" font-size="36" textLength="40" lengthAdjust="spacingAndGlyphs">tv</text>
</g>
</g>
</g>

<!-- PS4 -->
<g id="ps4">
<rect x="294.7" y="1220.6" width="135.1" height="130" fill="#141b29"/>
<rect x="294.7" y="1220.6" width="11.5" height="130" fill="#1d2637"/>
<rect x="302" y="1220.600" width="1" height="130" fill="#0c111b"/>
<rect x="306.200" y="1220.600" width="123.600" height="51" fill="url(#ps4Gloss)"/>
<polygon points="306.200,1220.600 350,1220.600 429.800,1262 429.800,1271.600 306.200,1271.600" fill="#05070d" opacity="0.55"/>
<rect x="294.700" y="1271" width="135.100" height="1.300" fill="#2f3d60"/>
<rect x="306.200" y="1272.300" width="123.600" height="78.400" fill="url(#ps4Matte)"/>
<polygon points="289.700,1350.700 294.700,1345 429.800,1345 429.800,1350.700" fill="#0e131d"/>
<text x="416" y="1265" font-size="6.500" fill="#e8ecf4" font-weight="bold" font-style="italic">PS</text>
<!-- controller -->
<g>
<path d="M376,1326 Q378,1316 388,1315 L430,1315 Q441,1316 443,1326 L446.500,1350 Q447,1361 440,1360.500 Q433,1360 430,1350 L427,1343 L392,1343 L388,1352 Q384,1361 377,1360.500 Q370,1360 371,1349 Z" fill="#0e131c"/>
<path d="M392,1317 L426,1317 L424,1330 L394,1330 Z" fill="#1a2230"/>
<circle cx="397" cy="1338" r="5" fill="#1c2533"/><circle cx="397" cy="1338" r="3" fill="#0b0f17"/>
<circle cx="421" cy="1338" r="5" fill="#1c2533"/><circle cx="421" cy="1338" r="3" fill="#0b0f17"/>
<circle cx="384" cy="1325" r="5.500" fill="#161d29"/><circle cx="434" cy="1325" r="5.500" fill="#161d29"/>
<circle cx="434" cy="1321.500" r="0.900" fill="#c66"/><circle cx="437.500" cy="1325" r="0.900" fill="#c66"/><circle cx="430.500" cy="1325" r="0.900" fill="#a77"/><circle cx="434" cy="1328.500" r="0.900" fill="#88a"/>
<circle cx="409" cy="1340" r="1" fill="#ccc"/>
</g>
</g>

<!-- DVD PLAYER -->
<g id="dvd">
<path d="M519,1247.400 L693.500,1247.400 L713.400,1288.100 L503.300,1288.100 Z" fill="url(#dvdTop)"/>
<path d="M519,1247.400 L693.500,1247.400 L713.400,1288.100 L503.300,1288.100 Z" fill="url(#dvdSheen)"/>
<rect x="503.300" y="1288.100" width="210.100" height="25" fill="url(#dvdFront)"/>
<rect x="503.300" y="1288.100" width="210.100" height="1.200" fill="#4a5160"/>
<rect x="505.500" y="1313" width="205.500" height="5" fill="#0a0b0e"/>
<!-- top logos -->
<g fill="#0c0d10">
<path d="M592,1262 q12,-6 30,-3 q4,1.500 0,3.500 q-14,4 -30,2 z"/>
<rect x="586" y="1268" width="42" height="3.200" rx="1"/>
<rect x="579" y="1277" width="50" height="4.200" rx="1"/>
</g>
<g fill="#4f7fd0" opacity="0.55"><rect x="521" y="1284" width="28" height="1.600"/><rect x="554" y="1284" width="40" height="1.600"/><rect x="655" y="1283.500" width="42" height="1.800"/></g>
<!-- right panel on front -->
<rect x="645" y="1296" width="62" height="12" fill="#0b0c10"/>
<rect x="658" y="1300.500" width="5" height="1.500" fill="#8fb4ff"/><rect x="679" y="1301.500" width="7" height="1.500" fill="#5a6a8a"/>
<!-- tray -->
<path d="M574,1298 L641,1298 L645,1332 L571.500,1332 Z" fill="#0d0f14"/>
<ellipse cx="608" cy="1314" rx="31" ry="15" fill="url(#discG)"/>
<ellipse cx="600" cy="1311" rx="13" ry="6" fill="#e9f2fb" opacity="0.85"/>
<ellipse cx="621" cy="1309" rx="10" ry="7" fill="#1b2230" opacity="0.9"/>
<ellipse cx="609" cy="1314" rx="5" ry="3" fill="#20242c"/>
<path d="M571.500,1330.500 L645.300,1330.500 L644.500,1341.300 L572.300,1341.300 Z" fill="#121419"/>
<rect x="586" y="1336" width="44" height="1.600" fill="#c8ccd2"/>
</g>

<!-- GAME CONSOLE -->
<g id="gc">
<path d="M743.500,1281.800 Q744,1279.500 748,1278.500 L848,1259.800 Q854,1259 860,1260 L924,1274 L924,1316 L842,1346 Q838,1347.500 834,1345.500 L749,1307 Q746,1305 746,1302 Z" fill="#18181a"/>
<path d="M746,1278.500 L850,1259.500 Q854,1259 858,1259.800 L924,1274.600 L842,1313.500 Q838,1315 834,1313.500 L745,1283.500 Q742,1281 746,1278.500 Z" fill="url(#gcTop)"/>
<path d="M743.800,1283 L836,1314.500 L836,1346 L749,1307 Q746,1305 746,1302 Z" fill="#121214"/>
<path d="M836,1314.500 Q839,1315.500 842,1314 L924,1275 L924,1316 L842,1346 Q839,1347 836,1346 Z" fill="url(#gcFront)"/>
<!-- ports -->
<path d="M761,1297 L771,1300.500 L771,1306 L767,1305 L761,1301 Z" fill="#05050a" stroke="#2a2a2e" stroke-width="0.800"/>
<path d="M778,1303.500 L788,1307 L788,1312.500 L784,1311.500 L778,1307.500 Z" fill="#05050a" stroke="#2a2a2e" stroke-width="0.800"/>
<path d="M794,1316 L818,1326 L818,1328.500 L794,1318.500 Z" fill="#050506"/>
<circle cx="862.800" cy="1324.600" r="4.500" fill="#39c8ff" opacity="0.500" filter="url(#blur2)"/>
<circle cx="862.800" cy="1324.600" r="1.800" fill="#d9f6ff"/>
<text x="0" y="0" font-size="19" fill="#f2f2f2" transform="translate(823,1296) matrix(0.9,-0.42,0.55,0.45,0,0)" textLength="30" lengthAdjust="spacingAndGlyphs">MX</text>
<text x="0" y="0" font-size="9" fill="#d02020" font-weight="bold" transform="translate(851,1283) matrix(0.9,-0.42,0.55,0.45,0,0)">plus</text>
<!-- remote -->
<rect x="922.500" y="1205.800" width="43.200" height="134.400" rx="5" fill="#1a1a1b"/>
<rect x="923.500" y="1207" width="41.200" height="132" rx="4.500" fill="none" stroke="#333" stroke-width="0.800"/>
<rect x="952.500" y="1211.300" width="8.500" height="4.600" rx="2" fill="#d93a2a"/>
<circle cx="930.500" cy="1213.500" r="2" fill="#3a1a18"/>
<g fill="#dfe6f2"><rect x="927" y="1221" width="7.500" height="4.400" rx="1.500"/><rect x="936" y="1221" width="7.500" height="4.400" rx="1.500"/><rect x="945" y="1221" width="7.500" height="4.400" rx="1.500"/><rect x="954" y="1221" width="7.500" height="4.400" rx="1.500"/></g>
<g fill="#ccc"><circle cx="930.500" cy="1232" r="1.300"/><circle cx="939.500" cy="1232" r="1.300"/><circle cx="948.500" cy="1232" r="1.300"/><circle cx="957.500" cy="1232" r="1.300"/></g>
<circle cx="929.500" cy="1243.500" r="1.800" fill="#999"/><circle cx="958.500" cy="1243.500" r="1.800" fill="#999"/>
<circle cx="944.100" cy="1260.200" r="15.300" fill="#c4c4c6"/>
<circle cx="944.100" cy="1260.200" r="14" fill="none" stroke="#e6e6e8" stroke-width="1.500"/>
<circle cx="944.100" cy="1260.200" r="8.300" fill="#9d9d9f"/>
<circle cx="944.100" cy="1260.200" r="8.300" fill="none" stroke="#707072" stroke-width="0.800"/>
<circle cx="929.500" cy="1277.500" r="1.800" fill="#ddd"/><circle cx="958.500" cy="1277.500" r="1.800" fill="#555"/>
<g fill="#c8c8ca">
<circle cx="932.500" cy="1289.500" r="1.100"/><circle cx="944.100" cy="1289.500" r="1.100"/><circle cx="955.700" cy="1289.500" r="1.100"/>
<circle cx="932.500" cy="1298" r="1.100"/><circle cx="944.100" cy="1298" r="1.100"/><circle cx="955.700" cy="1298" r="1.100"/>
<circle cx="932.500" cy="1306.500" r="1.100"/><circle cx="944.100" cy="1306.500" r="1.100"/><circle cx="955.700" cy="1306.500" r="1.100"/>
<rect x="930" y="1314.300" width="5.500" height="1.400"/><circle cx="944.100" cy="1315" r="1.100"/><rect x="953" y="1314.300" width="5.500" height="1.400"/>
</g>
</g>

<!-- PC (laptop) -->
<g id="pc">
<ellipse cx="1130" cy="1312" rx="80" ry="4" fill="#ddd" opacity="0.600" filter="url(#blur3)"/>
<!-- base -->
<path d="M1029,1294.500 L1088,1285.500 L1136,1307 L1128,1311.500 Q1124,1312.500 1118,1311.500 Z" fill="url(#pcBase)"/>
<path d="M1072,1291 L1092,1288.500 L1112,1299 L1090,1300 Z" fill="#5a5a5c" opacity="0.850"/>
<path d="M1029,1294.500 L1118,1310 Q1124,1311.500 1128,1310 L1128,1311.800 Q1124,1313 1118,1312 L1029,1296 Z" fill="#9a9a9c"/>
<!-- lid -->
<path d="M1033.300,1257.400 Q1034,1255.500 1038,1255 L1144,1248.200 Q1149,1248 1153,1250 L1237,1281.500 Q1241,1284 1236,1286.500 L1134,1309.800 Q1129,1311 1125,1308 L1035,1260.500 Q1032.500,1259 1033.300,1257.400 Z" fill="url(#pcLid)"/>
<path d="M1035,1260.500 L1125,1308 Q1129,1311 1134,1309.800 L1236,1286.500 Q1240,1285 1239,1283 Q1240.500,1286 1236,1288.200 L1134,1311.600 Q1129,1312.500 1125,1310 L1035,1262 Z" fill="#a2a2a4"/>
<rect x="1133" y="1264" width="21" height="4.500" rx="2" fill="#f4f4f4" opacity="0.900" transform="rotate(8 1143 1266)"/>
</g>

<!-- TV BOX -->
<g id="tvbox">
<path d="M1263,1301 h30 q3,0 3,3 v1 q0,3 -4,3 h-26 q-4,0 -4,-3 z" fill="#15151d"/>
<path d="M1406,1301 h30 l1,4 q0,3 -4,3 h-26 q-4,0 -4,-3 v-1 q0,-3 3,-3 z" fill="#15151d"/>
<path d="M1281,1248.300 L1417,1248.300 Q1423,1248.300 1427,1252 L1438,1262 Q1440,1264 1440,1267 L1259.800,1267 Q1259.800,1264 1262,1262 L1271,1252 Q1275,1248.300 1281,1248.300 Z" fill="#353544"/>
<path d="M1259.800,1268 Q1259.800,1264.600 1264,1264.600 L1436,1264.600 Q1440,1264.600 1440,1268 L1440,1298 Q1440,1303.300 1434,1303.300 L1266,1303.300 Q1259.800,1303.300 1259.800,1298 Z" fill="url(#tbFront)"/>
<rect x="1286" y="1268.500" width="128" height="22" fill="#1b1b27" opacity="0.800" filter="url(#blur1)"/>
<rect x="1330" y="1253.500" width="40" height="4" rx="2" fill="#1e1e2a" opacity="0.700" filter="url(#blur05)"/>
<circle cx="1349.800" cy="1288.500" r="7" fill="#2a3cff" opacity="0.45" filter="url(#blur2)"/>
<circle cx="1349.800" cy="1288.500" r="2" fill="#4f63f2"/>
</g>


<!-- LABELS -->
<g class="lbl">
<text x="372.8" y="268.6" font-size="22" text-anchor="middle">TV</text>
<text x="728.6" y="237.7" font-size="21.5" text-anchor="middle" textLength="99.5" lengthAdjust="spacingAndGlyphs">Projector</text>
<text x="1059.6" y="247.6" font-size="23" text-anchor="middle" textLength="80.5" lengthAdjust="spacing">Monitor</text>
<text x="125" y="1397.4" font-size="21" text-anchor="middle" textLength="86.5" lengthAdjust="spacing">Apple TV</text>
<text x="363.5" y="1390.4" font-size="21" text-anchor="middle" textLength="41" lengthAdjust="spacingAndGlyphs">PS4</text>
<text x="603" y="1388.6" font-size="28.5" text-anchor="middle" textLength="167" lengthAdjust="spacingAndGlyphs">DVD Player</text>
<text x="864.8" y="1388.6" font-size="28.5" text-anchor="middle" textLength="214" lengthAdjust="spacingAndGlyphs">Game Console</text>
<text x="1131.6" y="1388.2" font-size="29.5" text-anchor="middle" textLength="47" lengthAdjust="spacingAndGlyphs">PC</text>
<text x="1359.8" y="1388.9" font-size="30" text-anchor="middle" textLength="102.5" lengthAdjust="spacingAndGlyphs">TV Box</text>
</g>
</svg>
</body>
</html>
